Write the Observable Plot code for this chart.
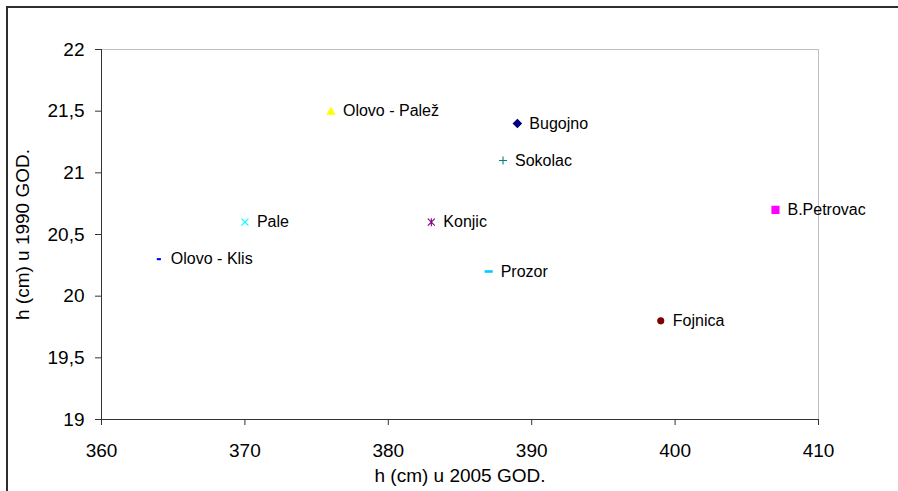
<!DOCTYPE html>
<html>
<head>
<meta charset="utf-8">
<script src="https://cdn.jsdelivr.net/npm/d3@7"></script>
<script src="https://cdn.jsdelivr.net/npm/@observablehq/plot@0.6"></script>
<style>
  html, body { margin: 0; padding: 0; background: #fff; }
  #wrap { position: relative; width: 898px; height: 491px; overflow: hidden; background: #fff; }
  #border { position: absolute; left: 6px; top: 6px; width: 1200px; height: 1200px; border: 2px solid #2e2e2e; box-sizing: border-box; pointer-events: none; }
  #chart { position: absolute; left: 0; top: 0; }
</style>
</head>
<body>
<div id="wrap"><div id="chart"></div><div id="border"></div></div>
<script>
// ---- data ----
const names = ["Bugojno", "B.Petrovac", "Olovo - Palež", "Pale", "Konjic", "Fojnica", "Sokolac", "Olovo - Klis", "Prozor"];
const h2005 = [389, 407, 376, 370, 383, 399, 388, 364, 387];
const h1990 = [21.4, 20.7, 21.5, 20.6, 20.6, 19.8, 21.1, 20.3, 20.2];
const xTicks = [360, 370, 380, 390, 400, 410];
const yTicks = [19, 19.5, 20, 20.5, 21, 21.5, 22];
const xTitle = "h (cm) u 2005 GOD.";
const yTitle = "h (cm) u 1990 GOD.";

// ---- series styling (Excel default markers) ----
const colors = ["#000080", "#ff00ff", "#ffff00", "#00ffff", "#800080", "#800000", "#008080", "#0000ff", "#00ccff"];
const sym = (f) => ({ draw: f });
const symbols = [
  sym(c => { c.moveTo(0, -4); c.lineTo(4, 0); c.lineTo(0, 4); c.lineTo(-4, 0); c.closePath(); }), // diamond
  sym(c => { c.rect(-3.5, -3.5, 7, 7); }),                                                        // square
  sym(c => { c.moveTo(0, -3.5); c.lineTo(3.7, 3); c.lineTo(-3.7, 3); c.closePath(); }),           // triangle
  sym(c => { c.moveTo(-3.5, -3.5); c.lineTo(3.5, 3.5); c.moveTo(3.5, -3.5); c.lineTo(-3.5, 3.5); }), // times
  sym(c => { c.moveTo(-3.5, -3.5); c.lineTo(3.5, 3.5); c.moveTo(3.5, -3.5); c.lineTo(-3.5, 3.5); c.moveTo(0, -4); c.lineTo(0, 4); }), // asterisk
  sym(c => { c.moveTo(3, 0); c.arc(0, 0, 3, 0, 2 * Math.PI); }),                                  // circle
  sym(c => { c.moveTo(-4, 0); c.lineTo(4, 0); c.moveTo(0, -4); c.lineTo(0, 4); }),               // plus
  sym(c => { c.rect(-1.5, -0.5, 3, 1); }),                                                        // short dash
  sym(c => { c.rect(-3.5, -0.75, 7, 1.5); })                                                      // long dash
];

const data = names.map((name, i) => ({ name, x: h2005[i], y: h1990[i] }));
const fmt = d => String(d).replace(".", ",");

const chart = Plot.plot({
  width: 898,
  height: 491,
  marginLeft: 101,
  marginRight: 80,
  marginTop: 49,
  marginBottom: 72,
  style: { fontFamily: "'Liberation Sans', Arial, sans-serif", fontSize: "19px", color: "#000", background: "transparent" },
  x: { domain: [xTicks[0], xTicks[xTicks.length - 1]] },
  y: { domain: [yTicks[0], yTicks[yTicks.length - 1]] },
  color: { domain: names, range: colors },
  symbol: { domain: names, range: symbols },
  marks: [
    Plot.ruleY([yTicks[yTicks.length - 1]], { stroke: "#c0c0c0", strokeWidth: 1 }),
    Plot.ruleX([xTicks[xTicks.length - 1]], { stroke: "#c0c0c0", strokeWidth: 1 }),
    Plot.ruleX([xTicks[0]], { stroke: "#333", strokeWidth: 1 }),
    Plot.ruleY([yTicks[0]], { stroke: "#333", strokeWidth: 1 }),
    Plot.axisX({ ticks: xTicks, tickSize: 6, tickPadding: 18, label: null, fontSize: 19, stroke: "#333" }),
    Plot.axisY({ ticks: yTicks, tickSize: 6, tickPadding: 11, tickFormat: fmt, label: null, fontSize: 19, stroke: "#333" }),
    Plot.text([xTitle], { frameAnchor: "bottom", dy: 56, textAnchor: "middle", lineAnchor: "middle", fontSize: 19, fill: "#000" }),
    Plot.text([yTitle], { frameAnchor: "left", dx: -79, rotate: -90, textAnchor: "middle", lineAnchor: "middle", fontSize: 19, fill: "#000" }),
    Plot.dot(data, { x: "x", y: "y", symbol: "name", fill: "name", stroke: "name", strokeWidth: 1.1 }),
    Plot.text(data, { x: "x", y: "y", text: "name", textAnchor: "start", dx: 12, fontSize: 16, fill: "#000" })
  ]
});
document.getElementById("chart").appendChild(chart);
</script>
</body>
</html>
